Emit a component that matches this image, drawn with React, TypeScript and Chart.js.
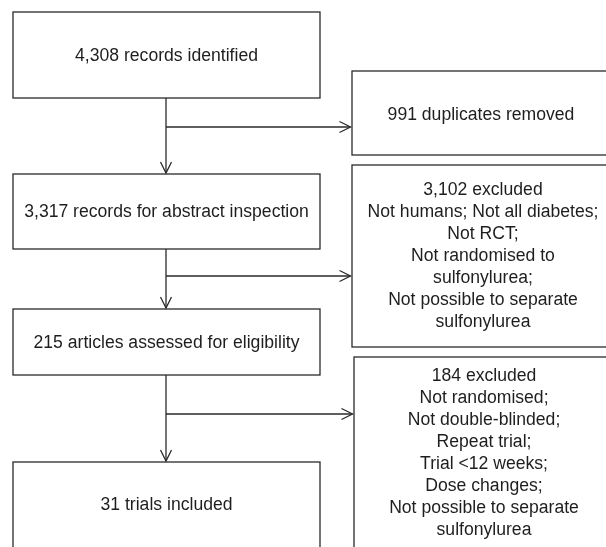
import React, { useEffect, useRef } from "react";
import { Chart, registerables } from "chart.js";

Chart.register(...registerables);

// Flow stages (main column) and exclusions (side column)
const stageLabels: string[][] = [
  ["4,308 records identified"],
  ["3,317 records for abstract inspection"],
  ["215 articles assessed for eligibility"],
  ["31 trials included"],
];
const exclusionLabels: string[][] = [
  ["991 duplicates removed"],
  [
    "3,102 excluded",
    "Not humans; Not all diabetes;",
    "Not RCT;",
    "Not randomised to",
    "sulfonylurea;",
    "Not possible to separate",
    "sulfonylurea",
  ],
  [
    "184 excluded",
    "Not randomised;",
    "Not double-blinded;",
    "Repeat trial;",
    "Trial <12 weeks;",
    "Dose changes;",
    "Not possible to separate",
    "sulfonylurea",
  ],
];

// Layout in chart units (x: 0..606, y: 0..547 top-down)
const stageBoxes = [
  { x0: 13, x1: 320, y0: 12, y1: 98 },
  { x0: 13, x1: 320, y0: 174, y1: 249 },
  { x0: 13, x1: 320, y0: 309, y1: 375 },
  { x0: 13, x1: 320, y0: 462, y1: 560 },
];
const stageTextY = [56, 212, 343, 505];
const exclusionBoxes = [
  { x0: 352, x1: 612, y0: 71, y1: 155 },
  { x0: 352, x1: 612, y0: 165, y1: 347 },
  { x0: 354, x1: 612, y0: 357, y1: 560 },
];
const exclusionTextY = [115, 190, 376];
const exclusionTextX = [481, 483, 484];
const branchY = [127, 276, 414];
const trunkX = 166;
const lineStep = 22;

const flowPlugin = {
  id: "flow",
  afterDraw(chart: any) {
    const { ctx } = chart;
    const xs = chart.scales.x;
    const ys = chart.scales.y;
    const X = (v: number) => xs.getPixelForValue(v);
    const Y = (v: number) => ys.getPixelForValue(v);
    ctx.save();
    ctx.fillStyle = "#ffffff";
    ctx.fillRect(0, 0, chart.width, chart.height);
    ctx.strokeStyle = "#2a2a2a";
    ctx.lineWidth = 1.3;

    const rect = (b: any) => {
      ctx.strokeRect(X(b.x0), Y(b.y0), X(b.x1) - X(b.x0), Y(b.y1) - Y(b.y0));
    };
    stageBoxes.forEach(rect);
    exclusionBoxes.forEach(rect);

    const line = (a: number, b: number, c: number, d: number) => {
      ctx.beginPath();
      ctx.moveTo(X(a), Y(b));
      ctx.lineTo(X(c), Y(d));
      ctx.stroke();
    };

    // vertical trunks with down arrows
    for (let i = 0; i < stageBoxes.length - 1; i++) {
      const top = stageBoxes[i].y1;
      const tip = stageBoxes[i + 1].y0 - 1;
      line(trunkX, top, trunkX, tip);
      ctx.beginPath();
      ctx.moveTo(X(trunkX - 5.5), Y(tip - 11));
      ctx.lineTo(X(trunkX), Y(tip));
      ctx.lineTo(X(trunkX + 5.5), Y(tip - 11));
      ctx.stroke();
    }
    // branches with right arrows
    branchY.forEach((by, i) => {
      const tip = exclusionBoxes[i].x0 - 1.5;
      line(trunkX, by, tip, by);
      ctx.beginPath();
      ctx.moveTo(X(tip - 11), Y(by - 5.5));
      ctx.lineTo(X(tip), Y(by));
      ctx.lineTo(X(tip - 11), Y(by + 5.5));
      ctx.stroke();
    });

    ctx.fillStyle = "#1e1e1e";
    ctx.font = '17.6px "Liberation Sans", Arimo, Helvetica, sans-serif';
    ctx.textAlign = "center";
    ctx.textBaseline = "middle";
    stageLabels.forEach((lines, i) => {
      const b = stageBoxes[i];
      const cx = (X(b.x0) + X(b.x1)) / 2;
      lines.forEach((t, j) => ctx.fillText(t, cx, Y(stageTextY[i] + j * lineStep)));
    });
    exclusionLabels.forEach((lines, i) => {
      const cx = exclusionTextX[i];
      lines.forEach((t, j) => ctx.fillText(t, X(cx), Y(exclusionTextY[i] + j * lineStep)));
    });
    ctx.restore();
  },
};

export default function App() {
  const ref = useRef<HTMLCanvasElement>(null);
  useEffect(() => {
    if (!ref.current) return;
    const chart = new Chart(ref.current, {
      type: "scatter",
      data: { datasets: [{ data: [], pointRadius: 0 }] },
      options: {
        animation: false,
        responsive: false,
        events: [],
        layout: { padding: 0 },
        plugins: { legend: { display: false }, tooltip: { enabled: false } },
        scales: {
          x: { type: "linear", min: 0, max: 606, display: false },
          y: { type: "linear", min: 0, max: 547, reverse: true, display: false },
        },
      },
      plugins: [flowPlugin],
    });
    return () => chart.destroy();
  }, []);
  return (
    <div style={{ position: "absolute", left: 0, top: 0, width: 606, height: 547, background: "#fff" }}>
      <canvas ref={ref} width={606} height={547} />
    </div>
  );
}
